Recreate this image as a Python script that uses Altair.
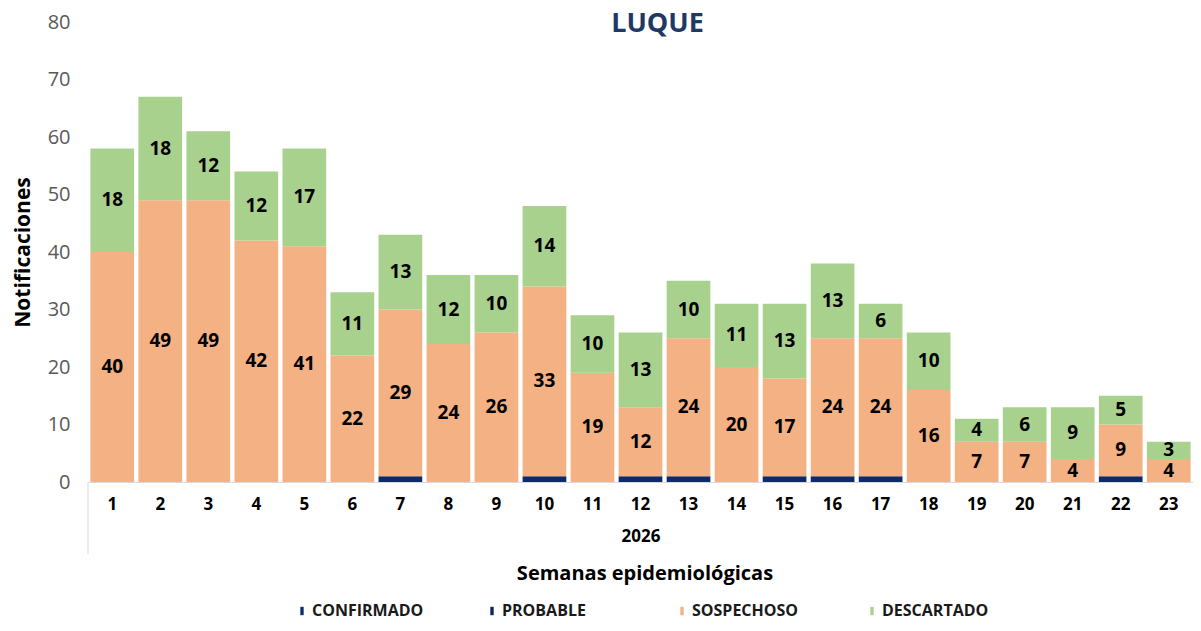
import altair as alt
import pandas as pd

weeks = list(range(1, 24))
confirmado = [0, 0, 0, 0, 0, 0, 1, 0, 0, 1, 0, 1, 1, 0, 1, 1, 1, 0, 0, 0, 0, 1, 0]
probable = [0] * 23
sospechoso = [40, 49, 49, 42, 41, 22, 29, 24, 26, 33, 19, 12, 24, 20, 17, 24, 24, 16, 7, 7, 4, 9, 4]
descartado = [18, 18, 12, 12, 17, 11, 13, 12, 10, 14, 10, 13, 10, 11, 13, 13, 6, 10, 4, 6, 9, 5, 3]

series = ["CONFIRMADO", "PROBABLE", "SOSPECHOSO", "DESCARTADO"]
colors = ["#0E2A6B", "#0B2265", "#F4B183", "#A9D18E"]

rows = []
for s_i, (name, vals) in enumerate(zip(series, [confirmado, probable, sospechoso, descartado])):
    for w, v in zip(weeks, vals):
        rows.append({"week": w, "serie": name, "value": v, "ord": s_i})
df = pd.DataFrame(rows)

W, H = 1105, 460
FONT = "Open Sans"

base = alt.Chart(df)

bars = base.mark_bar(strokeWidth=0).encode(
    x=alt.X("week:O", title="2026",
            scale=alt.Scale(paddingInner=0.09, paddingOuter=0.05),
            axis=alt.Axis(labelAngle=0, labelFont=FONT, labelFontWeight="bold",
                          labelFontSize=17, labelColor="#000000", labelPadding=14,
                          ticks=False, domainColor="#D9D9D9", domainWidth=1,
                          titleFont=FONT, titleFontWeight="bold", titleFontSize=17,
                          titleColor="#000000", titlePadding=16)),
    y=alt.Y("value:Q", stack="zero", title="Notificaciones",
            scale=alt.Scale(domain=[0, 80], nice=False),
            axis=alt.Axis(values=list(range(0, 90, 10)), grid=False, domain=False,
                          ticks=False, labelFont=FONT, labelFontSize=20,
                          labelColor="#595959", labelPadding=18,
                          titleFont=FONT, titleFontWeight="bold", titleFontSize=21,
                          titleColor="#000000", titlePadding=14)),
    color=alt.Color("serie:N", scale=alt.Scale(domain=series, range=colors),
                    legend=alt.Legend(title=None, orient="none", direction="horizontal",
                                      legendX=206, legendY=581, columns=4,
                                      gridAlign="all", columnPadding=60,
                                      symbolType="M-0.4,-1L0.4,-1L0.4,1L-0.4,1Z",
                                      symbolSize=70, symbolStrokeWidth=0,
                                      labelFont=FONT, labelFontWeight="bold",
                                      labelFontSize=16, labelColor="#1A1A1A",
                                      labelOffset=2)),
    order=alt.Order("ord:Q"),
)

labels = base.transform_stack(
    stack="value", groupby=["week"], as_=["y0", "y1"], sort=[alt.SortField("ord")]
).transform_calculate(
    mid="(datum.y0 + datum.y1) / 2"
).transform_filter(
    "datum.value > 0 && (datum.serie == 'SOSPECHOSO' || datum.serie == 'DESCARTADO')"
).mark_text(font=FONT, fontWeight="bold", fontSize=19, color="#000000", baseline="middle").encode(
    x=alt.X("week:O"),
    y=alt.Y("mid:Q"),
    text=alt.Text("value:Q"),
)

xt_df = pd.DataFrame({"t": ["Semanas epidemiológicas"]})
xtitle = alt.Chart(xt_df).mark_text(font=FONT, fontWeight="bold", fontSize=20,
                                    color="#000000", baseline="middle").encode(
    x=alt.value(557), y=alt.value(552), text="t:N")

sep = alt.Chart(xt_df).mark_rule(color="#D9D9D9", strokeWidth=1).encode(
    x=alt.value(0), y=alt.value(H), y2=alt.value(H + 72))

chart = alt.layer(bars, labels, xtitle, sep).properties(
    width=W, height=H,
    title=alt.TitleParams(text="LUQUE", anchor="middle", font=FONT, fontWeight="bold",
                          fontSize=27, color="#1F3864", dx=17, dy=30),
    autosize=alt.AutoSizeParams(type="none"),
    padding={"left": 80, "top": 14, "right": 0, "bottom": 140},
    background="white",
).configure_view(stroke=None)

chart.save("out.html", embed_options={"renderer": "svg", "actions": False})
